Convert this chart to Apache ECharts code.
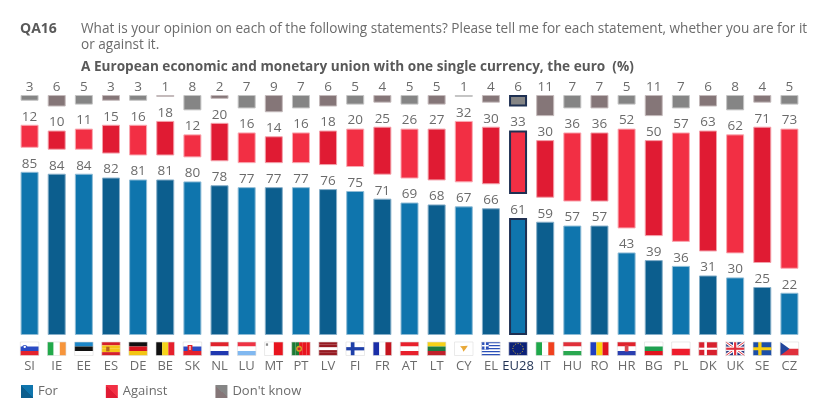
<!DOCTYPE html>
<html>
<head>
<meta charset="utf-8">
<title>QA16</title>
<script src="https://cdn.jsdelivr.net/npm/echarts@6/dist/echarts.min.js"></script>
<style>
html,body{margin:0;padding:0;background:#fff;}
#chart{width:828px;height:408px;}
</style>
</head>
<body>
<div id="chart"></div>
<script>
var categories = ['SI','IE','EE','ES','DE','BE','SK','NL','LU','MT','PT','LV','FI','FR','AT','LT','CY','EL','EU28','IT','HU','RO','HR','BG','PL','DK','UK','SE','CZ'];
var forValues = [85,84,84,82,81,81,80,78,77,77,77,76,75,71,69,68,67,66,61,59,57,57,43,39,36,31,30,25,22];
var againstValues = [12,10,11,15,16,18,12,20,16,14,16,18,20,25,26,27,32,30,33,30,36,36,52,50,57,63,62,71,73];
var dontKnowValues = [3,6,5,3,3,1,8,2,7,9,7,6,5,4,5,5,1,4,6,11,7,7,5,11,7,6,8,4,5];

var GAP = 12.5; // empty space between the three blocks, in axis units
var FONT = '"Open Sans", sans-serif';
var TEXT = '#6b6b6b';
var NAVY = '#1f3052';

// flag pictures: stripes plus a few small marks, in 0..1 of the flag box
var flagSpecs = {
	SI: {h:['#fff','#2a4bc4','#e4222c'], marks:[{t:'c',x:.24,y:.42,r:.2,c:'#2a4bc4'},{t:'c',x:.24,y:.36,r:.09,c:'#fff'}]},
	IE: {v:['#22a94a','#fff','#f7953b']},
	EE: {h:['#1c86c8','#111','#fff']},
	ES: {h:['#d5202a','#f5c518','#f5c518','#d5202a'], marks:[{t:'r',x:.24,y:.35,w:.18,h:.34,c:'#b5651d'}]},
	DE: {h:['#111','#d8141e','#f3c512']},
	BE: {v:['#111','#f5d41a','#e6202c']},
	SK: {h:['#fff','#2a4bc4','#e4222c'], marks:[{t:'r',x:.24,y:.22,w:.26,h:.5,c:'#e4222c'},{t:'r',x:.34,y:.3,w:.06,h:.3,c:'#fff'}]},
	NL: {h:['#e0222c','#fff','#2038b0']},
	LU: {h:['#ee3344','#fff','#80b8f0']},
	MT: {v:['#fff','#e8141e'], marks:[{t:'r',x:.07,y:.1,w:.12,h:.18,c:'#888'}]},
	PT: {v:['#1c7a34','#1c7a34','#e8141e','#e8141e','#e8141e'], marks:[{t:'c',x:.4,y:.5,r:.22,c:'#d8a020'},{t:'c',x:.4,y:.5,r:.12,c:'#c0282c'}]},
	LV: {h:['#961a22','#961a22','#fff','#961a22','#961a22']},
	FI: {h:['#fff'], marks:[{t:'r',x:.26,y:0,w:.2,h:1,c:'#1e3fa8'},{t:'r',x:0,y:.38,w:1,h:.24,c:'#1e3fa8'}]},
	FR: {v:['#1a2ea8','#fff','#c4141e']},
	AT: {h:['#e8202c','#fff','#e8202c']},
	LT: {h:['#f5d118','#1a7a42','#c0202a']},
	CY: {h:['#fff'], marks:[{t:'p',pts:[[.3,.32],[.72,.28],[.6,.52],[.48,.72],[.42,.5]],c:'#e8a838'}]},
	EL: {h:['#2a4fb8','#fff','#2a4fb8','#fff','#2a4fb8','#fff','#2a4fb8','#fff','#2a4fb8'], marks:[{t:'r',x:0,y:0,w:.38,h:.56,c:'#2a4fb8'},{t:'r',x:.15,y:0,w:.08,h:.56,c:'#fff'},{t:'r',x:0,y:.22,w:.38,h:.11,c:'#fff'}]},
	EU28: {h:['#0c2178'], marks:[{t:'ring',x:.5,y:.5,r:.32,c:'#e8c828'}]},
	IT: {v:['#1ea84a','#fff','#f0401e']},
	HU: {h:['#e0303a','#fff','#2aa850']},
	RO: {v:['#1f3fc0','#fbd30c','#e0141e']},
	HR: {h:['#e0222c','#fff','#2a3fb0'], marks:[{t:'r',x:.4,y:.24,w:.2,h:.46,c:'#d84a50'}]},
	BG: {h:['#fff','#1ea050','#e0141e']},
	PL: {h:['#fff','#ee1c2c']},
	DK: {h:['#d8202e'], marks:[{t:'r',x:.3,y:0,w:.14,h:1,c:'#fff'},{t:'r',x:0,y:.42,w:1,h:.16,c:'#fff'}]},
	UK: {h:['#26347e'], marks:[{t:'l',x1:0,y1:0,x2:1,y2:1,c:'#fff',w:3},{t:'l',x1:1,y1:0,x2:0,y2:1,c:'#fff',w:3},{t:'l',x1:0,y1:0,x2:1,y2:1,c:'#e0303c',w:1},{t:'l',x1:1,y1:0,x2:0,y2:1,c:'#e0303c',w:1},{t:'r',x:.38,y:0,w:.24,h:1,c:'#fff'},{t:'r',x:0,y:.34,w:1,h:.32,c:'#fff'},{t:'r',x:.44,y:0,w:.12,h:1,c:'#e0303c'},{t:'r',x:0,y:.42,w:1,h:.16,c:'#e0303c'}]},
	SE: {h:['#1c4fa8'], marks:[{t:'r',x:.28,y:0,w:.18,h:1,c:'#f8d010'},{t:'r',x:0,y:.39,w:1,h:.22,c:'#f8d010'}]},
	CZ: {h:['#fff','#e0303c'], marks:[{t:'p',pts:[[0,0],[.5,.5],[0,1]],c:'#22459c'}]}
};

function renderFlag(params, api) {
	var i = api.value(0);
	var spec = flagSpecs[categories[i]];
	var base = api.coord([i, 0]);
	var W = 18.5, H = 13.5;
	var x0 = base[0] - W / 2, y0 = base[1] + 7;
	var kids = [];
	var stripes = spec.h || spec.v;
	stripes.forEach(function(c, k) {
		var f = 1 / stripes.length;
		kids.push({type:'rect', shape: spec.h ? {x:x0, y:y0 + k * f * H, width:W, height:f * H} : {x:x0 + k * f * W, y:y0, width:f * W, height:H}, style:{fill:c}});
	});
	(spec.marks || []).forEach(function(m) {
		if (m.t == 'r') {
			kids.push({type:'rect', shape:{x:x0 + m.x * W, y:y0 + m.y * H, width:m.w * W, height:m.h * H}, style:{fill:m.c}});
		} else if (m.t == 'c') {
			kids.push({type:'circle', shape:{cx:x0 + m.x * W, cy:y0 + m.y * H, r:m.r * H}, style:{fill:m.c}});
		} else if (m.t == 'p') {
			kids.push({type:'polygon', shape:{points:m.pts.map(function(p) { return [x0 + p[0] * W, y0 + p[1] * H]; })}, style:{fill:m.c}});
		} else if (m.t == 'l') {
			kids.push({type:'line', shape:{x1:x0 + m.x1 * W, y1:y0 + m.y1 * H, x2:x0 + m.x2 * W, y2:y0 + m.y2 * H}, style:{stroke:m.c, lineWidth:m.w}});
		} else if (m.t == 'ring') {
			kids.push({type:'circle', shape:{cx:x0 + m.x * W, cy:y0 + m.y * H, r:m.r * H * 1.2}, style:{fill:null, stroke:m.c, lineWidth:1, lineDash:[1, 1.6]}});
		}
	});
	kids.push({type:'rect', shape:{x:x0, y:y0, width:W, height:H}, style:{fill:null, stroke:'#dcdcdc', lineWidth:.6}});
	return {type:'group', children:kids};
}

// bars alternate a light and a dark shade, EU28 gets a navy outline
function blockData(values, light, dark, edgeLight, edgeDark) {
	return values.map(function(v, i) {
		var odd = i % 2 == 1;
		var eu = categories[i] == 'EU28';
		return {
			value: v,
			itemStyle: {
				color: odd ? dark : light,
				borderColor: eu ? NAVY : (odd ? edgeDark : edgeLight),
				borderWidth: eu ? 2 : 1
			}
		};
	});
}

function blockSeries(name, values, light, dark, edgeLight, edgeDark) {
	return {
		name: name,
		type: 'bar',
		stack: 'total',
		barWidth: 18,
		itemStyle: {
			color: new echarts.graphic.LinearGradient(0, 1, 1, 0, [
				{offset:0, color:dark}, {offset:.5, color:dark}, {offset:.5, color:light}, {offset:1, color:light}
			])
		},
		label: {show:true, position:'top', distance:1, color:TEXT, fontFamily:FONT, fontSize:13.5},
		data: blockData(values, light, dark, edgeLight, edgeDark)
	};
}

function gapSeries() {
	return {
		type: 'bar',
		stack: 'total',
		barWidth: 18,
		silent: true,
		itemStyle: {color:'transparent'},
		data: categories.map(function() { return GAP; })
	};
}

var myChart = echarts.init(document.getElementById('chart'));
var option = {
	animation: false,
	backgroundColor: '#fff',
	title: [
		{text:'QA16', left:15, top:17, textStyle:{color:'#595959', fontFamily:FONT, fontSize:14, fontWeight:'bold'}},
		{text:'What is your opinion on each of the following statements? Please tell me for each statement, whether you are for it', left:76, top:17, textStyle:{color:TEXT, fontFamily:FONT, fontSize:13.6, fontWeight:'normal'}},
		{text:'or against it.', left:76, top:33, textStyle:{color:TEXT, fontFamily:FONT, fontSize:13.6, fontWeight:'normal'}},
		{text:'A European economic and monetary union with one single currency, the euro  (%)', left:76, top:55, textStyle:{color:'#595959', fontFamily:FONT, fontSize:13.6, fontWeight:'bold'}}
	],
	legend: {
		left: 16,
		top: 380,
		itemWidth: 12,
		itemHeight: 13,
		itemGap: 48,
		icon: 'rect',
		selectedMode: false,
		data: ['For', 'Against', "Don't know"],
		textStyle: {color:TEXT, fontFamily:FONT, fontSize:13}
	},
	grid: {left:16, right:25, top:95, bottom:73},
	xAxis: {
		type: 'category',
		data: categories,
		axisLine: {show:false},
		axisTick: {show:false},
		axisLabel: {
			interval: 0,
			margin: 25,
			fontFamily: FONT,
			fontSize: 13,
			color: function(v) { return v == 'EU28' ? NAVY : TEXT; }
		}
	},
	yAxis: {type:'value', min:0, max:100 + 2 * GAP, show:false},
	series: [
		blockSeries('For', forValues, '#0f75ad', '#0c5e8e', '#8fbcd6', '#86aec8'),
		gapSeries(),
		blockSeries('Against', againstValues, '#f22f44', '#e01b33', '#f9a9b2', '#f3a0aa'),
		gapSeries(),
		blockSeries("Don't know", dontKnowValues, '#858585', '#857678', '#c4c4c4', '#c4babb'),
		{
			type: 'custom',
			silent: true,
			clip: false,
			renderItem: renderFlag,
			encode: {x:0, y:1},
			data: categories.map(function(c, i) { return [i, 0]; })
		}
	]
};
myChart.setOption(option);
</script>
</body>
</html>
